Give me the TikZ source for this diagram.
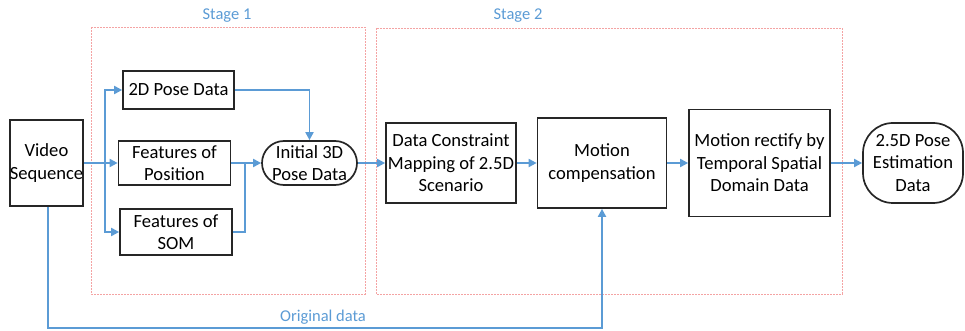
\documentclass[tikz,border=0pt]{standalone}
\usepackage{fontspec}
\setmainfont{Carlito}
\usetikzlibrary{arrows.meta}
\definecolor{flowblue}{HTML}{5B9BD5}
\definecolor{stagered}{HTML}{F4A3A3}
\tikzset{
  proc/.style={draw=black!85, line width=1.7pt, rectangle, align=center,
    font=\fontsize{18.6}{22.5}\selectfont, inner sep=0pt},
  term/.style={proc, rounded corners=#1},
  flow/.style={draw=flowblue, line width=1.9pt, -{Triangle[length=8pt,width=8pt]}},
  link/.style={draw=flowblue, line width=1.9pt},
  stagebox/.style={draw=stagered, line width=0.8pt, dash pattern=on 2pt off 1pt},
  stagelabel/.style={text=flowblue, font=\fontsize{16.5}{19}\selectfont},
}
\begin{document}
\begin{tikzpicture}[x=1pt,y=-1pt]
\useasboundingbox (0,0) rectangle (965,331);

% stage frames
\draw[stagebox] (91,27) rectangle (365,294);
\draw[stagebox] (376,28) rectangle (842,294);
\node[stagelabel] (s1) at (227,16) {Stage 1};
\node[stagelabel] (s2) at (518,16) {Stage 2};

% blocks
\node[proc, minimum width=73pt, minimum height=86pt] (vid) at (46.5,163) {Video\\Sequence};
\node[proc, minimum width=111pt, minimum height=38pt] (p2d) at (178.5,90) {2D Pose Data};
\node[proc, minimum width=112pt, minimum height=44pt] (pos) at (174.5,163) {Features of\\Position};
\node[proc, minimum width=112pt, minimum height=46pt] (som) at (176,232) {Features of\\SOM};
\node[term=22pt, minimum width=95pt, minimum height=44pt] (init) at (309.5,163) {Initial 3D\\Pose Data};
\node[proc, minimum width=130pt, minimum height=80pt] (dc) at (451,163) {Data Constraint\\Mapping of 2.5D\\Scenario};
\node[proc, minimum width=129pt, minimum height=90pt] (mc) at (602,163) {Motion\\compensation};
\node[proc, minimum width=141pt, minimum height=107pt] (mr) at (759.5,163) {Motion rectify by\\Temporal Spatial\\Domain Data};
\node[term=30pt, minimum width=100pt, minimum height=80pt] (est) at (913,163) {2.5D Pose\\Estimation\\Data};

% fan-out from the video sequence
\coordinate (fork) at (105,163);
\draw[flow] (vid.east) -- (pos.west);
\draw[flow] (fork) |- (p2d.west);
\draw[flow] (fork) |- (som.west);

% merge into the initial 3D pose
\coordinate (join) at (245,163);
\draw[flow] (p2d.east) -| (init.north);
\draw[link] (som.east) -| (join);
\draw[flow] (pos.east) -- (init.west);

% main chain
\draw[flow] (init.east) -- (dc.west);
\draw[flow] (dc.east) -- (mc.west);
\draw[flow] (mc.east) -- (mr.west);
\draw[flow] (mr.east) -- (est.west);

% original data bypass
\coordinate (low) at (48,328);
\draw[flow] (vid.south -| low) |- (low -| mc.south) -- (mc.south);
\node[stagelabel] (od) at (323,317) {Original data};
\end{tikzpicture}
\end{document}
